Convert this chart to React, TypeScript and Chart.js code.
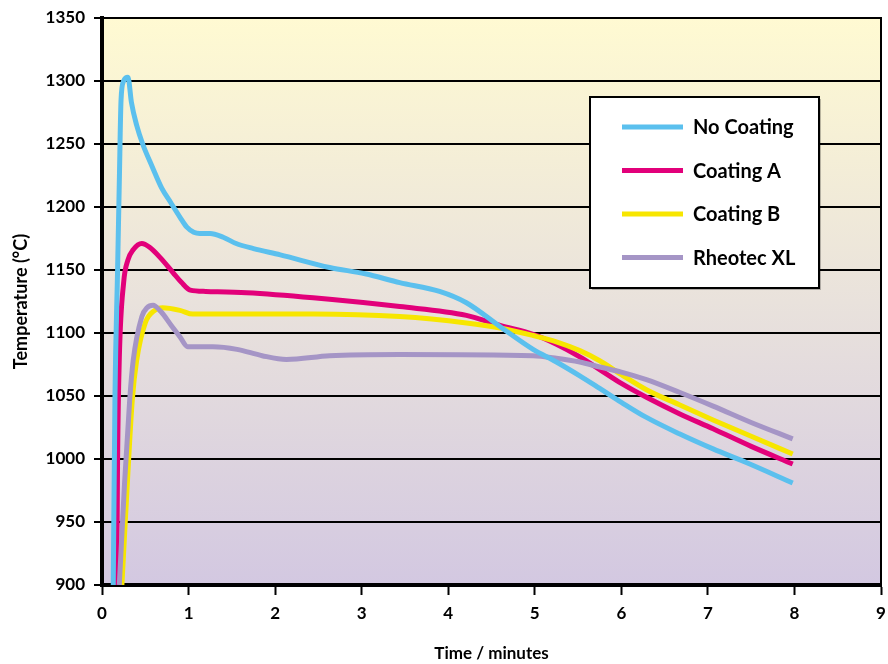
import React, { useEffect, useRef } from 'react';
import { Chart, registerables } from 'chart.js';

Chart.register(...registerables);

// ---- Data ----
const seriesLabels = ['No Coating', 'Coating A', 'Coating B', 'Rheotec XL'];
const seriesColors = ['#5BC0EE', '#E2007A', '#F7E600', '#A595C6'];

const noCoatingX = [0.13, 0.15, 0.18, 0.2, 0.22, 0.25, 0.3, 0.34, 0.4, 0.47, 0.58, 0.69, 0.79, 0.9, 0.98, 1.06, 1.13, 1.25, 1.4, 1.55, 1.75, 2.06, 2.63, 3.04, 3.44, 3.9, 4.21, 4.6, 4.98, 5.25, 5.52, 5.75, 6.0, 6.29, 6.67, 7.06, 7.45, 7.98];
const noCoatingY = [900, 1050, 1150, 1220, 1285, 1300, 1303, 1283, 1265, 1250, 1232, 1215, 1204, 1192, 1184, 1180, 1179, 1179, 1176, 1171, 1167, 1162, 1152, 1147, 1140, 1133, 1124, 1105, 1087, 1077, 1066, 1056, 1045, 1033, 1020, 1008, 997, 981];

const coatingAX = [0.17, 0.18, 0.2, 0.25, 0.3, 0.36, 0.46, 0.55, 0.67, 0.82, 0.92, 1.02, 1.2, 1.67, 2.44, 3.44, 4.21, 4.6, 4.98, 5.25, 5.52, 5.75, 6.0, 6.29, 6.67, 7.06, 7.5, 7.98];
const coatingAY = [900, 1000, 1080, 1140, 1158, 1166, 1171, 1168, 1160, 1148, 1140, 1134, 1133, 1132, 1128, 1121, 1114, 1106, 1099, 1091, 1081, 1071, 1060, 1049, 1036, 1024, 1010, 996];

const coatingBX = [0.23, 0.3, 0.35, 0.4, 0.5, 0.61, 0.7, 0.9, 1.05, 2.44, 3.44, 4.21, 4.6, 4.98, 5.25, 5.52, 5.75, 6.0, 6.29, 6.67, 7.06, 7.5, 7.98];
const coatingBY = [900, 990, 1047, 1078, 1108, 1118, 1120, 1118, 1115, 1115, 1113, 1108, 1104, 1098, 1093, 1086, 1078, 1067, 1055, 1043, 1031, 1018, 1004];

const rheotecX = [0.2, 0.26, 0.32, 0.36, 0.46, 0.52, 0.59, 0.68, 0.8, 0.9, 0.99, 1.28, 1.56, 1.85, 2.13, 2.63, 3.44, 4.98, 5.25, 5.52, 5.75, 6.0, 6.29, 6.67, 7.06, 7.5, 7.98];
const rheotecY = [900, 980, 1047, 1078, 1113, 1120, 1122, 1117, 1106, 1097, 1089, 1089, 1087, 1082, 1079, 1082, 1083, 1082, 1080, 1077, 1073, 1069, 1063, 1053, 1042, 1029, 1016];

const seriesX = [noCoatingX, coatingAX, coatingBX, rheotecX];
const seriesY = [noCoatingY, coatingAY, coatingBY, rheotecY];
const drawOrder = [0, 3, 2, 1];

const xTitle = 'Time / minutes';
const yTitle = 'Temperature (°C)';

const FONT = 'Lato';

const backgroundPlugin = {
  id: 'bgGradient',
  beforeDraw(chart: any) {
    const { ctx, chartArea } = chart;
    if (!chartArea) return;
    const g = ctx.createLinearGradient(0, chartArea.top, 0, chartArea.bottom);
    g.addColorStop(0, '#FFFAD2');
    g.addColorStop(0.5, '#E9E2DC');
    g.addColorStop(1, '#D3C8E1');
    ctx.save();
    ctx.fillStyle = g;
    ctx.fillRect(chartArea.left, chartArea.top, chartArea.right - chartArea.left, chartArea.bottom - chartArea.top);
    ctx.restore();
  },
  afterDraw(chart: any) {
    const { ctx, chartArea } = chart;
    ctx.save();
    ctx.strokeStyle = '#000';
    ctx.lineWidth = 2;
    ctx.beginPath();
    ctx.moveTo(chartArea.right, chartArea.top - 1);
    ctx.lineTo(chartArea.right, chartArea.bottom);
    ctx.stroke();
    ctx.restore();
  },
};

const boxLegendPlugin = {
  id: 'boxLegend',
  afterDatasetsDraw(chart: any) {
    const { ctx } = chart;
    const bx = 590, by = 97, bw = 229, bh = 191;
    ctx.save();
    ctx.fillStyle = 'rgba(0,0,0,0.25)';
    ctx.fillRect(bx + 2, by + 2, bw, bh);
    ctx.fillStyle = '#FFFFFF';
    ctx.fillRect(bx, by, bw, bh);
    ctx.strokeStyle = '#000';
    ctx.lineWidth = 2;
    ctx.strokeRect(bx, by, bw, bh);
    chart.data.datasets.forEach((ds: any, i: number) => {
      const y = 127 + i * 43.5;
      ctx.strokeStyle = ds.borderColor;
      ctx.lineWidth = 5;
      ctx.beginPath();
      ctx.moveTo(622, y);
      ctx.lineTo(683, y);
      ctx.stroke();
      ctx.fillStyle = '#000';
      ctx.font = `bold 20px ${FONT}`;
      ctx.textBaseline = 'middle';
      ctx.textAlign = 'left';
      ctx.fillText(ds.label, 693, y + 1);
    });
    ctx.restore();
  },
};

export default function App() {
  const ref = useRef<HTMLCanvasElement | null>(null);

  useEffect(() => {
    if (!ref.current) return;
    const datasets = seriesLabels.map((label, i) => ({
      label,
      data: seriesX[i].map((x, j) => ({ x, y: seriesY[i][j] })),
      borderColor: seriesColors[i],
      backgroundColor: seriesColors[i],
      borderWidth: 5,
      pointRadius: 0,
      cubicInterpolationMode: 'monotone' as const,
      fill: false,
      order: drawOrder[i],
      borderCapStyle: 'butt' as const,
    }));

    const chart = new Chart(ref.current, {
      type: 'line',
      data: { datasets },
      options: {
        animation: false,
        responsive: false,
        maintainAspectRatio: false,
        layout: { padding: { top: 18, right: 7, left: 0, bottom: 0 } },
        plugins: {
          legend: { display: false },
          tooltip: { enabled: false },
        },
        scales: {
          x: {
            type: 'linear',
            min: 0,
            max: 9,
            ticks: {
              stepSize: 1,
              padding: 8,
              color: '#000',
              font: { family: FONT, size: 17, weight: 'bold' },
              callback: (v: any) => String(v),
            },
            grid: {
              drawOnChartArea: false,
              drawTicks: true,
              tickLength: 10,
              tickWidth: 2,
              tickColor: '#000',
            },
            border: { display: true, color: '#000', width: 4 },
            title: {
              display: true,
              text: xTitle,
              color: '#000',
              font: { family: FONT, size: 17, weight: 'bold' },
              padding: { top: 0, bottom: 0 },
            },
            afterFit(scale: any) {
              scale.height = 79;
              scale.paddingLeft = 0;
              scale.paddingRight = 0;
            },
          },
          y: {
            type: 'linear',
            min: 900,
            max: 1350,
            ticks: {
              stepSize: 50,
              padding: 9,
              color: '#000',
              font: { family: FONT, size: 17, weight: 'bold' },
              callback: (v: any) => String(v),
            },
            grid: {
              color: '#000',
              lineWidth: 2,
              drawTicks: true,
              tickLength: 8,
              tickColor: '#000',
              tickWidth: 2,
            },
            border: { display: true, color: '#000', width: 4 },
            title: {
              display: true,
              text: yTitle,
              color: '#000',
              font: { family: FONT, size: 18, weight: 'bold' },
              padding: { top: 10, bottom: 10 },
            },
            afterFit(scale: any) {
              scale.width = 102;
              scale.paddingTop = 0;
              scale.paddingBottom = 0;
            },
          },
        },
      },
      plugins: [backgroundPlugin, boxLegendPlugin],
    });
    return () => chart.destroy();
  }, []);

  return (
    <div style={{ position: 'absolute', left: 0, top: 0, width: 888, height: 664, background: '#fff' }}>
      <canvas ref={ref} width={888} height={664} style={{ width: 888, height: 664, display: 'block' }} />
    </div>
  );
}
